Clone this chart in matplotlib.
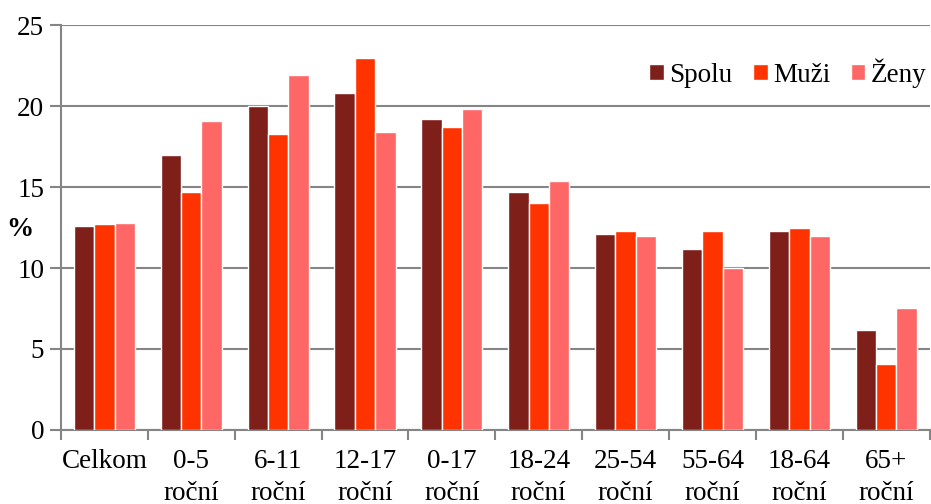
import matplotlib.pyplot as plt
import numpy as np

# ======================================
# DATA
# ======================================
categories = ["Celkom", "0-5\nroční", "6-11\nroční", "12-17\nroční", "0-17\nroční",
              "18-24\nroční", "25-54\nroční", "55-64\nroční", "18-64\nroční", "65+\nroční"]
spolu = [12.6, 17.0, 20.0, 20.8, 19.2, 14.7, 12.1, 11.2, 12.3, 6.2]
muzi = [12.7, 14.7, 18.3, 23.0, 18.7, 14.0, 12.3, 12.3, 12.5, 4.1]
zeny = [12.8, 19.1, 21.9, 18.4, 19.8, 15.4, 12.0, 10.0, 12.0, 7.5]

series_names = ["Spolu", "Muži", "Ženy"]
colors = ["#7F1F1A", "#FF3300", "#FF6666"]

plt.rcParams['font.family'] = ['Liberation Serif', 'DejaVu Serif']
FS = 19.5

# ======================================
# PLOT
# ======================================
fig = plt.figure(figsize=(9.31, 5.04), dpi=100)
ax = fig.add_axes([0.0655, 0.147, 0.933, 0.803])

x = np.arange(len(categories))
w = 0.235
for i, (vals, name, col) in enumerate(zip([spolu, muzi, zeny], series_names, colors)):
    ax.bar(x + (i - 1) * w, vals, width=w, color=col, edgecolor="white",
           linewidth=1, label=name, zorder=3)

ax.set_xlim(-0.5, len(categories) - 0.5)
ax.set_ylim(0, 25)
ax.set_yticks([0, 5, 10, 15, 20, 25])
ax.grid(axis="y", color="#858585", linewidth=1.5, zorder=0)

ax.set_xticks(x)
ax.set_xticklabels(categories, fontsize=FS, linespacing=1.35)
ax.tick_params(axis="x", length=0, pad=14)
ax.set_xticks(np.arange(-0.5, len(categories), 1), minor=True)
ax.tick_params(axis="x", which="minor", length=7, width=1.5, color="#858585")
ax.tick_params(axis="y", labelsize=FS, length=8, width=1.5, color="#858585", pad=4)

for s in ["top", "right"]:
    ax.spines[s].set_visible(False)
for s in ["left", "bottom"]:
    ax.spines[s].set_color("#858585")
    ax.spines[s].set_linewidth(1.5)

ax.set_ylabel("%", fontsize=FS, fontweight="bold", rotation=0, va="center")
ax.yaxis.set_label_coords(-0.047, 0.494)

ax.legend(loc="upper right", bbox_to_anchor=(1.009, 0.945), ncol=3, frameon=False,
          fontsize=FS, handlelength=0.55, handleheight=0.55, handletextpad=0.2,
          columnspacing=0.75, borderaxespad=0)

fig.savefig("out.png", dpi=100)
